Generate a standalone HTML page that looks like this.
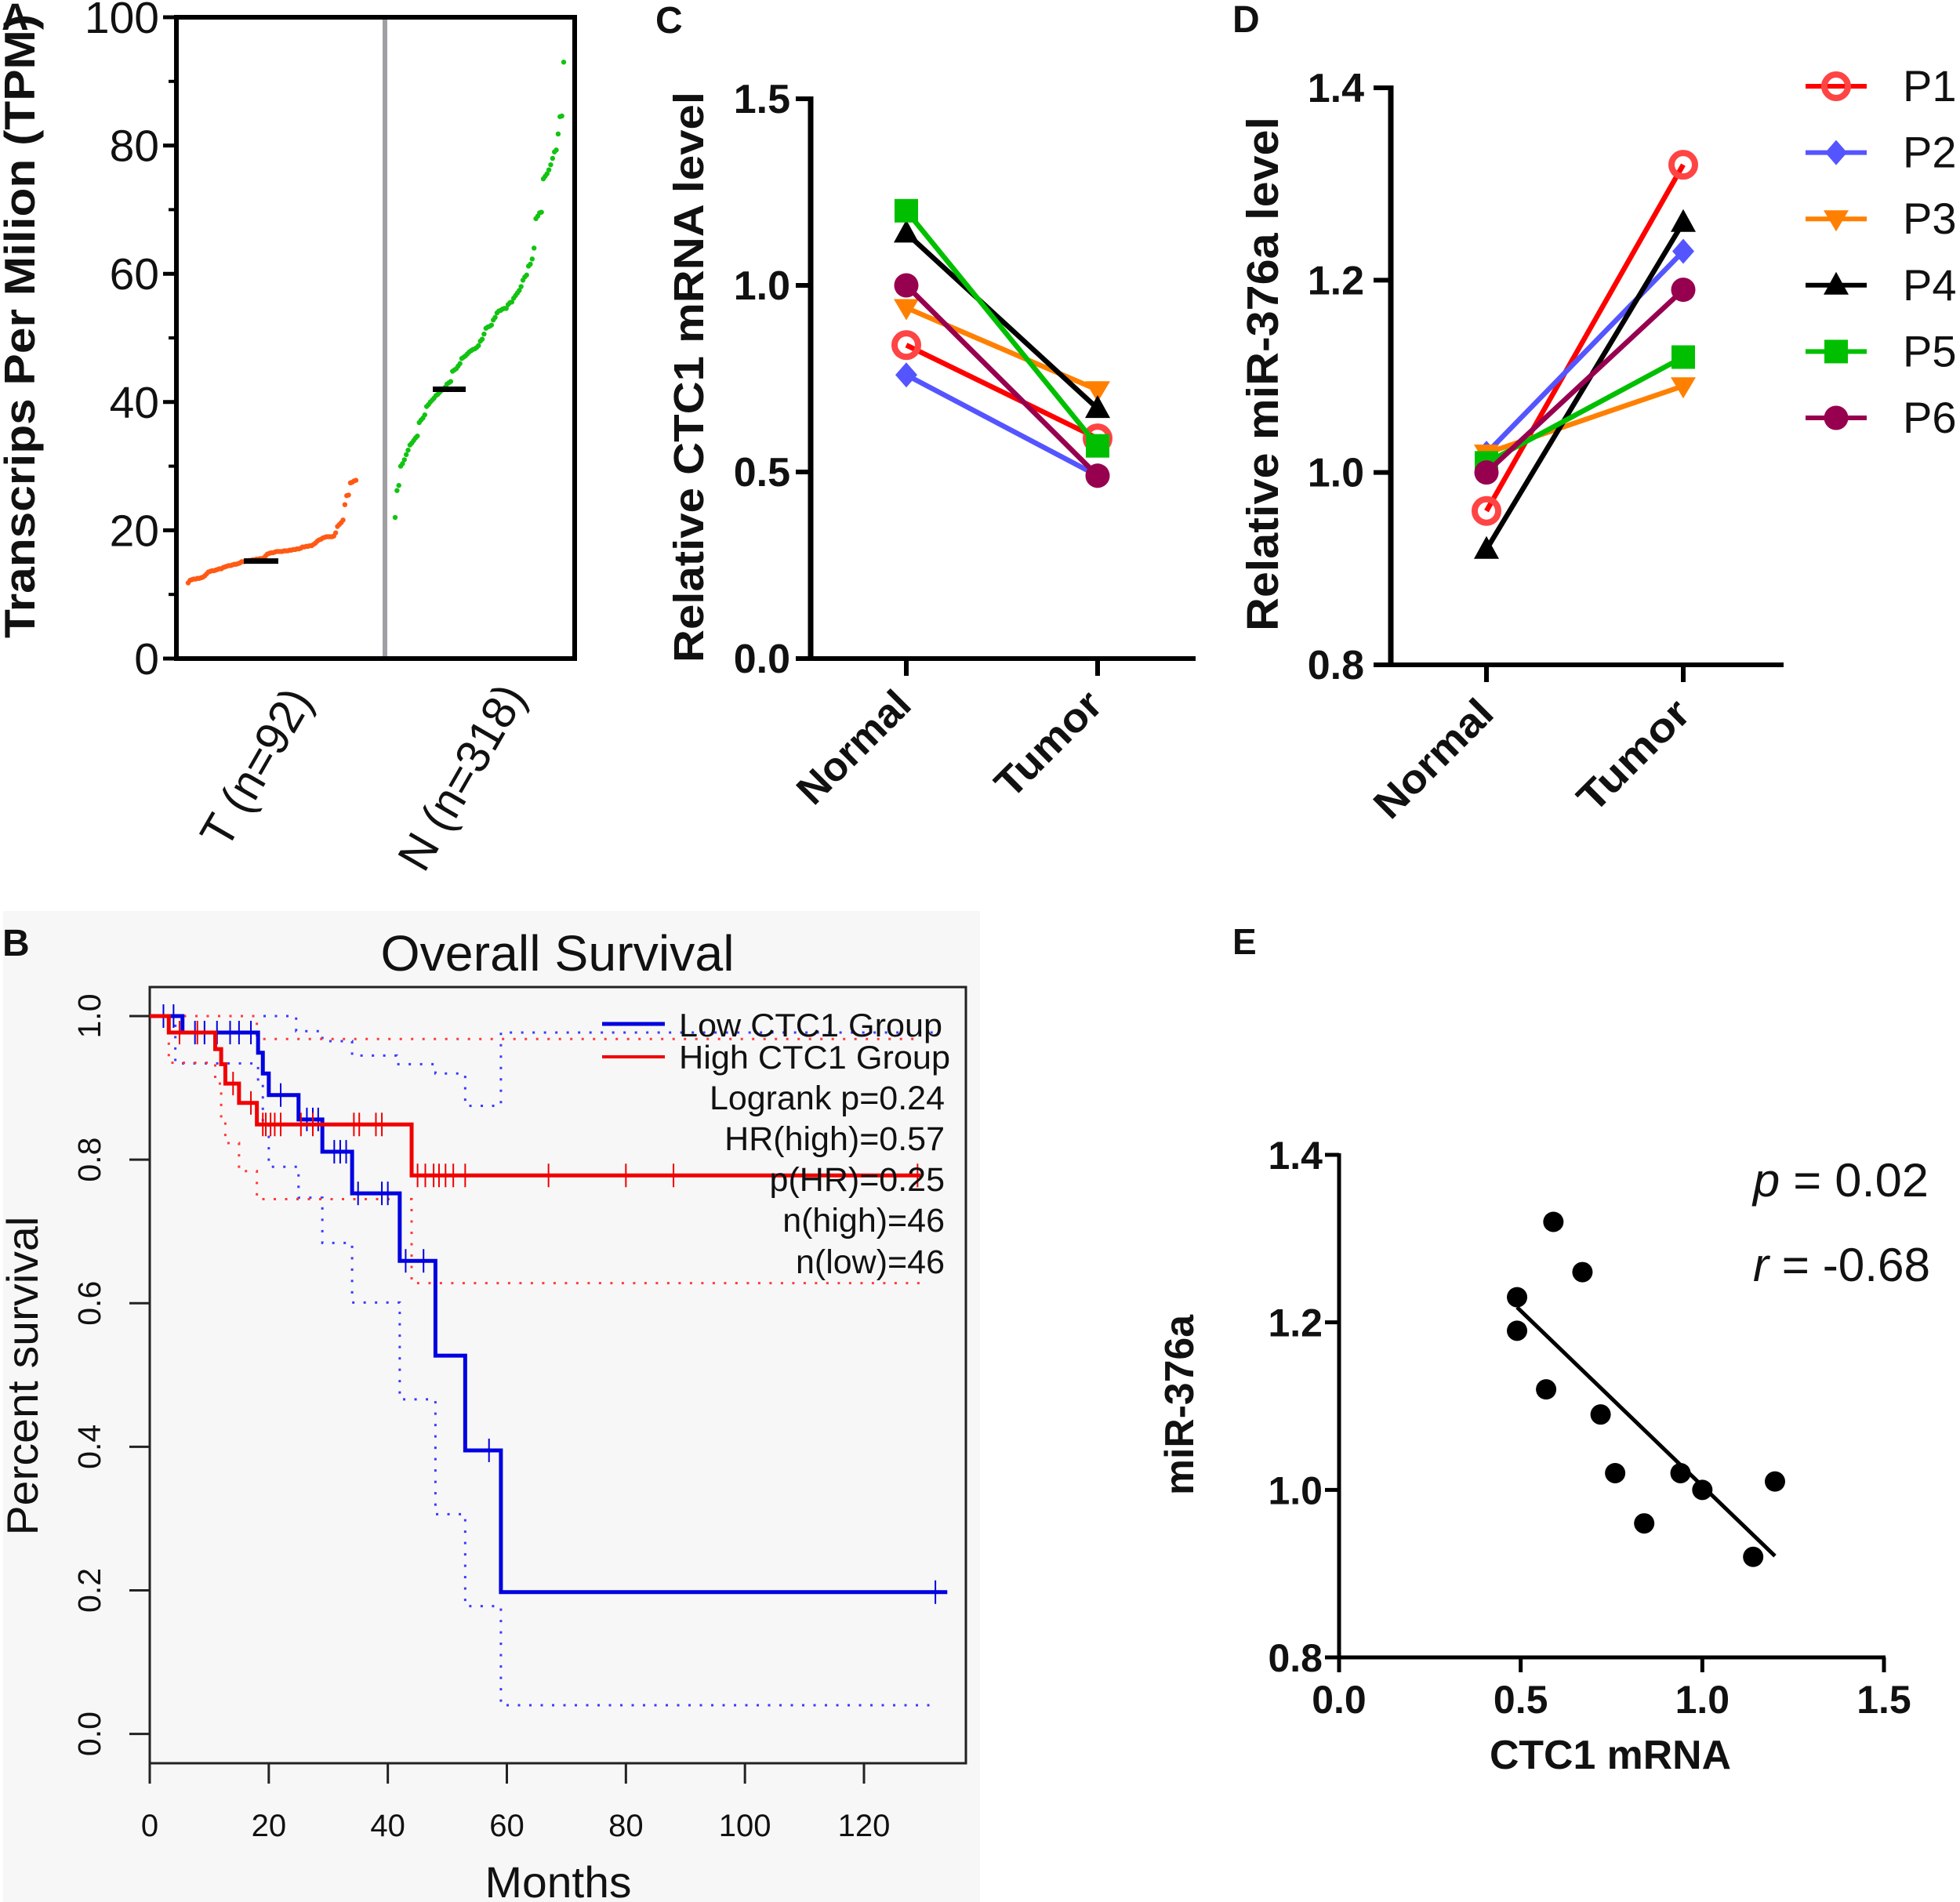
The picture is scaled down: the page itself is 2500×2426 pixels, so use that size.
<!DOCTYPE html>
<html lang="en">
<head>
<meta charset="utf-8">
<title>CTC1 and miR-376a figure</title>
<style>
html,body{margin:0;padding:0;background:#fff;width:2500px;height:2426px;overflow:hidden}
svg{display:block}
text{font-family:"Liberation Sans",Arial,sans-serif;fill:#111}
.b{font-weight:bold}
</style>
</head>
<body>
<svg id="figure" xmlns="http://www.w3.org/2000/svg" width="2500" height="2426" viewBox="0 0 2500 2426">
  <rect x="0" y="0" width="2500" height="2426" fill="#fff"/>

  <!-- Panel A -->
  <g id="panel-a">
    <text class="b" transform="translate(44,416) rotate(-90)" text-anchor="middle" font-size="55" textLength="796" lengthAdjust="spacingAndGlyphs">Transcrips Per Milion (TPM)</text>
    <text class="b" x="2" y="38" font-size="48">A</text>
    <line x1="491" y1="20" x2="491" y2="840" stroke="#a0a0a4" stroke-width="6"/>
    <rect x="225" y="22" width="508" height="818" fill="none" stroke="#000" stroke-width="6"/>
    <g id="a-ticks"></g>
    <g id="a-dots"></g>
    <text transform="translate(400,893) rotate(-60)" text-anchor="end" font-size="60" textLength="222" lengthAdjust="spacingAndGlyphs">T (n=92)</text>
    <text transform="translate(672,888) rotate(-60)" text-anchor="end" font-size="60" textLength="262" lengthAdjust="spacingAndGlyphs">N (n=318)</text>
  </g>

  <!-- Panel C -->
  <g id="panel-c">
    <text class="b" x="836" y="42" font-size="48">C</text>
    <text class="b" transform="translate(897,481) rotate(-90)" text-anchor="middle" font-size="54" textLength="728" lengthAdjust="spacingAndGlyphs">Relative CTC1 mRNA level</text>
    <g id="c-plot"></g>
  </g>

  <!-- Panel D -->
  <g id="panel-d">
    <text class="b" x="1572" y="41" font-size="48">D</text>
    <text class="b" transform="translate(1630,477) rotate(-90)" text-anchor="middle" font-size="57" textLength="656" lengthAdjust="spacingAndGlyphs">Relative miR-376a level</text>
    <g id="d-plot"></g>
    <g id="d-legend"></g>
  </g>

  <!-- Panel B -->
  <g id="panel-b">
    <rect x="4" y="1162" width="1246" height="1264" fill="#f7f7f7"/>
    <text class="b" x="3" y="1219" font-size="48">B</text>
    <text x="711" y="1238" text-anchor="middle" font-size="64" textLength="451" lengthAdjust="spacingAndGlyphs">Overall Survival</text>
    <rect x="191" y="1259" width="1041" height="990" fill="none" stroke="#222" stroke-width="3"/>
    <g id="b-axes"></g>
    <g id="b-curves"></g>
    <text transform="translate(48,1755) rotate(-90)" text-anchor="middle" font-size="56" textLength="407" lengthAdjust="spacingAndGlyphs">Percent survival</text>
    <text x="712" y="2420" text-anchor="middle" font-size="56" textLength="187" lengthAdjust="spacingAndGlyphs">Months</text>
    <g>
      <line x1="768" y1="1306" x2="848" y2="1306" stroke="#0000e0" stroke-width="5"/>
      <line x1="768" y1="1348" x2="848" y2="1348" stroke="#f00000" stroke-width="4"/>
      <text x="866" y="1322" font-size="42" textLength="336" lengthAdjust="spacingAndGlyphs">Low CTC1 Group</text>
      <text x="866" y="1363" font-size="42" textLength="346" lengthAdjust="spacingAndGlyphs">High CTC1 Group</text>
      <text x="1205" y="1415" text-anchor="end" font-size="43">Logrank p=0.24</text>
      <text x="1205" y="1467" text-anchor="end" font-size="43">HR(high)=0.57</text>
      <text x="1205" y="1519" text-anchor="end" font-size="43">p(HR)=0.25</text>
      <text x="1205" y="1571" text-anchor="end" font-size="43">n(high)=46</text>
      <text x="1205" y="1624" text-anchor="end" font-size="43">n(low)=46</text>
    </g>
  </g>

  <!-- Panel E -->
  <g id="panel-e">
    <text class="b" x="1572" y="1217" font-size="46">E</text>
    <text class="b" transform="translate(1522,1792) rotate(-90)" text-anchor="middle" font-size="52" textLength="230" lengthAdjust="spacingAndGlyphs">miR-376a</text>
    <text class="b" x="2054" y="2256" text-anchor="middle" font-size="52" textLength="308" lengthAdjust="spacingAndGlyphs">CTC1 mRNA</text>
    <g id="e-plot"></g>
    <text x="2236" y="1526" font-size="60" textLength="224" lengthAdjust="spacingAndGlyphs"><tspan font-style="italic">p</tspan> = 0.02</text>
    <text x="2236" y="1634" font-size="60" textLength="226" lengthAdjust="spacingAndGlyphs"><tspan font-style="italic">r</tspan> = -0.68</text>
  </g>
</svg>

<script>
// ---- Panel A data ----
const tpmTicks = [0, 20, 40, 60, 80, 100];
const tpmMinorTicks = [10, 30, 50, 70, 90];
const tumorTpm = [11.8,12.2,12.3,12.4,12.4,12.5,12.5,12.6,12.7,12.9,13.2,13.5,13.6,13.7,13.7,13.8,13.9,14.0,14.0,14.2,14.3,14.4,14.5,14.5,14.6,14.7,14.7,14.8,14.9,15.1,15.1,15.2,15.2,15.3,15.3,15.4,15.4,15.5,15.5,15.6,15.6,15.7,16.0,16.3,16.4,16.5,16.5,16.6,16.7,16.7,16.7,16.7,16.8,16.8,16.8,16.9,16.9,17.0,17.0,17.1,17.1,17.2,17.4,17.4,17.5,17.5,17.6,17.6,17.8,18.0,18.3,18.5,18.6,18.8,18.9,19.0,19.0,19.0,19.0,19.1,19.6,20.6,20.9,21.2,21.6,24.0,25.4,25.5,27.4,27.5,27.7,27.8];
const normalTpm = [22.0,26.2,27.0,30.0,30.4,31.0,31.8,32.5,33.3,33.6,34.0,34.4,34.7,36.8,37.2,37.5,38.0,39.3,39.6,40.0,40.3,40.6,41.0,41.2,41.5,41.8,42.0,42.3,42.8,43.0,43.2,44.8,45.0,45.2,45.6,46.0,46.8,47.0,47.2,47.5,47.8,48.0,48.2,48.3,48.5,48.8,49.5,49.8,50.6,51.5,51.7,51.8,52.0,52.8,53.2,53.9,54.2,54.3,54.5,54.6,54.6,55.2,55.5,55.6,56.2,56.6,57.0,57.4,58.0,59.0,59.5,59.8,61.2,61.5,62.3,64.0,68.6,69.0,69.5,69.6,74.8,75.2,75.6,76.2,77.0,78.0,79.0,79.3,81.8,84.5,84.6,93.0];
const tumorMedian = 15.2;
const normalMedian = 42;

// ---- Panels C / D data ----
const patients = ['P1','P2','P3','P4','P5','P6'];
const conditions = ['Normal','Tumor'];
const ctc1Normal = [0.84,0.76,0.94,1.14,1.20,1.00];
const ctc1Tumor  = [0.59,0.49,0.72,0.67,0.57,0.49];
const mirNormal  = [0.96,1.02,1.02,0.92,1.01,1.00];
const mirTumor   = [1.32,1.23,1.09,1.26,1.12,1.19];
const ctc1Ticks = [0.0,0.5,1.0,1.5];
const mirTicks = [0.8,1.0,1.2,1.4];

// ---- Panel B data ----
const survivalTicks = [0.0,0.2,0.4,0.6,0.8,1.0];
const monthTicks = [0,20,40,60,80,100,120];
const lowTime = [0,5.5,18.2,19,20,25,29,34,42,48,53,59,134];
const lowSurvival = [1,0.977,0.949,0.92,0.89,0.856,0.811,0.753,0.659,0.527,0.395,0.1975,0.1975];
const highTime = [0,3.2,11,12,12.7,15,18,44,129.5];
const highSurvival = [1,0.977,0.954,0.933,0.906,0.879,0.849,0.778,0.778];
const lowUpperTime = [0,24.6,29,34,41.5,48,53,59,132];
const lowUpperSurvival = [1,0.979,0.965,0.945,0.933,0.92,0.875,0.977,0.977];
const lowLowerTime = [0,4.3,18.2,19,20,25,29,34,42,48,53,59,132];
const lowLowerSurvival = [1,0.934,0.91,0.85,0.79,0.747,0.684,0.601,0.466,0.306,0.178,0.04,0.04];
const highUpperTime = [0,18,129.5];
const highUpperSurvival = [1,0.968,0.968];
const highLowerTime = [0,3.2,11,12,12.7,15,18,44,129.5];
const highLowerSurvival = [1,0.935,0.906,0.857,0.823,0.784,0.745,0.628,0.628];
const lowCensored = [2.3,4,7.6,9.2,11.3,13.5,15,17,22,26.4,27.4,28.3,31,32,33,35,39,40,43,46,57,132];
const highCensored = [5,8,14,17,19,19.5,20.3,21,22,25.4,27.4,34.3,35.2,38,39,45,46.3,47.7,48.6,49.7,51,53,67,80,88,129];

// ---- Panel E data ----
const scatterCtc1 = [0.49,0.49,0.59,0.67,0.57,0.72,0.76,0.84,0.94,1.00,1.14,1.20];
const scatterMir = [1.23,1.19,1.32,1.26,1.12,1.09,1.02,0.96,1.02,1.00,0.92,1.01];
const fitCtc1 = [0.49,1.20];
const fitMir = [1.218,0.921];
const scatterXTicks = [0.0,0.5,1.0,1.5];
const scatterYTicks = [0.8,1.0,1.2,1.4];

// ---- Helpers ----
const NS = 'http://www.w3.org/2000/svg';
function linear(d0, d1, r0, r1) {
  return v => r0 + (v - d0) * (r1 - r0) / (d1 - d0);
}
function mk(parent, tag, attrs) {
  const el = document.createElementNS(NS, tag);
  for (const k in attrs) el.setAttribute(k, attrs[k]);
  parent.appendChild(el);
  return el;
}
function stepPath(times, surv, x, y) {
  let d = 'M' + x(times[0]) + ' ' + y(surv[0]);
  for (let i = 1; i < times.length; i++) {
    d += ' H' + x(times[i]) + ' V' + y(surv[i]);
  }
  return d;
}
function survivalAt(times, surv, t) {
  let s = surv[0];
  for (let i = 0; i < times.length; i++) {
    if (times[i] <= t) s = surv[i];
  }
  return s;
}

// ---- Panel A ----
(function () {
  const y = linear(0, 100, 840, 22);
  const ticks = document.getElementById('a-ticks');
  const dots = document.getElementById('a-dots');
  tpmTicks.forEach(v => {
    const l = mk(ticks, 'line', {x1: 208, x2: 225, y1: y(v), y2: y(v), stroke: '#000', 'stroke-width': 5});
    
    
    const t = mk(ticks, 'text', {x: 203, y: y(v) + 20, 'text-anchor': 'end', 'font-size': 57});
    t.textContent = v;
    
    
  });
  tpmMinorTicks.forEach(v => {
    const l = mk(ticks, 'line', {x1: 215, x2: 225, y1: y(v), y2: y(v), stroke: '#000', 'stroke-width': 4});
    
    
  });
  const xT = linear(0, tumorTpm.length - 1, 240, 454);
  tumorTpm.forEach((v, i) => {
    const c = mk(dots, 'circle', {cx: xT(i), cy: y(v), r: 3.2, fill: '#ff5a14'});
    
    
  });
  const xN = linear(0, normalTpm.length - 1, 504, 719);
  normalTpm.forEach((v, i) => {
    const c = mk(dots, 'circle', {cx: xN(i), cy: y(v), r: 3.2, fill: '#12c312'});
    
    
  });
  const m1 = mk(dots, 'line', {x1: 311, x2: 355, y1: y(tumorMedian), y2: y(tumorMedian), stroke: '#000', 'stroke-width': 7});
  
  
  const m2 = mk(dots, 'line', {x1: 552, x2: 594, y1: y(normalMedian), y2: y(normalMedian), stroke: '#000', 'stroke-width': 7});
  
  
})();

// ---- Panels C / D ----
const seriesColors = ['#ff0000','#5555ff','#ff8000','#000000','#00bf00','#97004f'];
const markerColors = ['#ff4444','#5555ff','#ff8000','#000000','#00bf00','#97004f'];
function drawMarker(parent, idx, x, y) {
  const col = markerColors[idx];
  let m;
  if (idx === 0) m = mk(parent, 'circle', {cx: x, cy: y, r: 15, fill: 'none', stroke: col, 'stroke-width': 8});
  else if (idx === 1) m = mk(parent, 'polygon', {points: [x, y - 16, x + 14, y, x, y + 16, x - 14, y].join(','), fill: col});
  else if (idx === 2) m = mk(parent, 'polygon', {points: [x - 16, y - 11, x + 16, y - 11, x, y + 16].join(','), fill: col});
  else if (idx === 3) m = mk(parent, 'polygon', {points: [x - 16, y + 12, x + 16, y + 12, x, y - 17].join(','), fill: col});
  else if (idx === 4) m = mk(parent, 'rect', {x: x - 15, y: y - 15, width: 30, height: 30, fill: col});
  else m = mk(parent, 'circle', {cx: x, cy: y, r: 15.5, fill: col});
  return m;
}
function drawPaired(g, o) {
  const y = linear(o.d0, o.d1, o.r0, o.r1);
  const x = i => (i === 0 ? o.x0 : o.x1);
  const a1 = mk(g, 'line', {x1: o.axisX, x2: o.axisX, y1: o.r1 - 3, y2: o.r0 + 3, stroke: '#000', 'stroke-width': 7});
  
  
  const a2 = mk(g, 'line', {x1: o.axisX, x2: o.axisEnd, y1: o.r0, y2: o.r0, stroke: '#000', 'stroke-width': 6});
  
  
  o.ticks.forEach(v => {
    const l = mk(g, 'line', {x1: o.tickX, x2: o.axisX, y1: y(v), y2: y(v), stroke: '#000', 'stroke-width': 6});
    
    
    const t = mk(g, 'text', {x: o.tickX - o.labelGap, y: y(v) + 18, 'text-anchor': 'end', 'font-size': 52, 'font-weight': 'bold'});
    t.textContent = v.toFixed(1);
    
    
  });
  conditions.forEach((c, i) => {
    const l = mk(g, 'line', {x1: x(i), x2: x(i), y1: o.r0, y2: o.r0 + 22, stroke: '#000', 'stroke-width': 6});
    
    
    const t = mk(g, 'text', {transform: 'translate(' + (x(i) + o.labelDx) + ',' + (o.r0 + o.labelDy) + ') rotate(-45)', 'text-anchor': 'end', 'font-size': 52, 'font-weight': 'bold', textLength: o.labelLengths[i], lengthAdjust: 'spacingAndGlyphs'});
    t.textContent = c;
    
    
  });
  patients.forEach((p, i) => {
    const s = mk(g, 'g', {});
    
    
    const ln = mk(s, 'line', {x1: x(0), y1: y(o.a[i]), x2: x(1), y2: y(o.b[i]), stroke: seriesColors[i], 'stroke-width': 6.5});
    
    
    const m0 = drawMarker(s, i, x(0), y(o.a[i]));
    
    
    const m1 = drawMarker(s, i, x(1), y(o.b[i]));
    
    
  });
}
drawPaired(document.getElementById('c-plot'), {
  d0: 0, d1: 1.5, r0: 840, r1: 126, axisX: 1034, axisEnd: 1525, tickX: 1015, labelGap: 7,
  labelDx: 9, labelDy: 62, labelLengths: [180, 168],
  x0: 1156, x1: 1400, ticks: ctc1Ticks, a: ctc1Normal, b: ctc1Tumor
});
drawPaired(document.getElementById('d-plot'), {
  d0: 0.8, d1: 1.4, r0: 848, r1: 112, axisX: 1774, axisEnd: 2275, tickX: 1752, labelGap: 12,
  labelDx: 12, labelDy: 65, labelLengths: [190, 178],
  x0: 1896, x1: 2147, ticks: mirTicks, a: mirNormal, b: mirTumor
});
(function () {
  const g = document.getElementById('d-legend');
  const legendY = linear(0, 5, 110, 533);
  patients.forEach((p, i) => {
    const l = mk(g, 'line', {x1: 2303, x2: 2381, y1: legendY(i), y2: legendY(i), stroke: seriesColors[i], 'stroke-width': 6});
    
    
    const m = drawMarker(g, i, 2342, legendY(i));
    
    
    const t = mk(g, 'text', {x: 2427, y: legendY(i) + 19, 'font-size': 56});
    t.textContent = p;
    
    
  });
})();

// ---- Panel B ----
(function () {
  const x = linear(0, 120, 191, 1102);
  const y = linear(0, 1, 2211.6, 1296);
  const ax = document.getElementById('b-axes');
  const cv = document.getElementById('b-curves');
  survivalTicks.forEach(v => {
    const l = mk(ax, 'line', {x1: 165, x2: 191, y1: y(v), y2: y(v), stroke: '#222', 'stroke-width': 3});
    
    
    const t = mk(ax, 'text', {transform: 'translate(128,' + y(v) + ') rotate(-90)', 'text-anchor': 'middle', 'font-size': 41, fill: '#222'});
    t.textContent = v.toFixed(1);
    
    
  });
  monthTicks.forEach(v => {
    const l = mk(ax, 'line', {x1: x(v), x2: x(v), y1: 2249, y2: 2275, stroke: '#222', 'stroke-width': 3});
    
    
    const t = mk(ax, 'text', {x: x(v), y: 2342, 'text-anchor': 'middle', 'font-size': 40});
    t.textContent = v;
    
    
  });
  const dotted = {fill: 'none', 'stroke-width': 3, 'stroke-dasharray': '3 11.5'};
  const p1 = mk(cv, 'path', Object.assign({d: stepPath(lowUpperTime, lowUpperSurvival, x, y), stroke: '#3a3aff'}, dotted));
  
  
  const p2 = mk(cv, 'path', Object.assign({d: stepPath(lowLowerTime, lowLowerSurvival, x, y), stroke: '#3a3aff'}, dotted));
  
  
  const p3 = mk(cv, 'path', Object.assign({d: stepPath(highUpperTime, highUpperSurvival, x, y), stroke: '#ff3a3a'}, dotted));
  
  
  const p4 = mk(cv, 'path', Object.assign({d: stepPath(highLowerTime, highLowerSurvival, x, y), stroke: '#ff3a3a'}, dotted));
  
  
  const c1 = mk(cv, 'path', {d: stepPath(lowTime, lowSurvival, x, y), fill: 'none', stroke: '#0000e0', 'stroke-width': 5});
  
  
  lowCensored.forEach(t => {
    const s = survivalAt(lowTime, lowSurvival, t);
    const l = mk(cv, 'line', {x1: x(t), x2: x(t), y1: y(s) - 15, y2: y(s) + 15, stroke: '#0000e0', 'stroke-width': 2});
    
    
  });
  const c2 = mk(cv, 'path', {d: stepPath(highTime, highSurvival, x, y), fill: 'none', stroke: '#f00000', 'stroke-width': 5});
  
  
  highCensored.forEach(t => {
    const s = survivalAt(highTime, highSurvival, t);
    const l = mk(cv, 'line', {x1: x(t), x2: x(t), y1: y(s) - 15, y2: y(s) + 15, stroke: '#f00000', 'stroke-width': 2});
    
    
  });
})();

// ---- Panel E ----
(function () {
  const g = document.getElementById('e-plot');
  const x = linear(0, 1.5, 1708, 2403);
  const y = linear(0.8, 1.4, 2114, 1473);
  const a1 = mk(g, 'line', {x1: x(0), x2: x(0), y1: y(1.4) - 2, y2: y(0.8) + 3, stroke: '#000', 'stroke-width': 5});
  
  
  const a2 = mk(g, 'line', {x1: x(0), x2: x(1.5) + 2, y1: y(0.8), y2: y(0.8), stroke: '#000', 'stroke-width': 5});
  
  
  scatterYTicks.forEach(v => {
    const l = mk(g, 'line', {x1: 1690, x2: x(0), y1: y(v), y2: y(v), stroke: '#000', 'stroke-width': 5});
    
    
    const t = mk(g, 'text', {x: 1687, y: y(v) + 18, 'text-anchor': 'end', 'font-size': 50, 'font-weight': 'bold'});
    t.textContent = v.toFixed(1);
    
    
  });
  scatterXTicks.forEach(v => {
    const l = mk(g, 'line', {x1: x(v), x2: x(v), y1: y(0.8), y2: 2133, stroke: '#000', 'stroke-width': 5});
    
    
    const t = mk(g, 'text', {x: x(v), y: 2185, 'text-anchor': 'middle', 'font-size': 50, 'font-weight': 'bold'});
    t.textContent = v.toFixed(1);
    
    
  });
  const fit = mk(g, 'line', {x1: x(fitCtc1[0]), y1: y(fitMir[0]), x2: x(fitCtc1[1]), y2: y(fitMir[1]), stroke: '#000', 'stroke-width': 5});
  
  
  scatterCtc1.forEach((v, i) => {
    const c = mk(g, 'circle', {cx: x(v), cy: y(scatterMir[i]), r: 13, fill: '#000'});
    
    
  });
})();
</script>
</body>
</html>
